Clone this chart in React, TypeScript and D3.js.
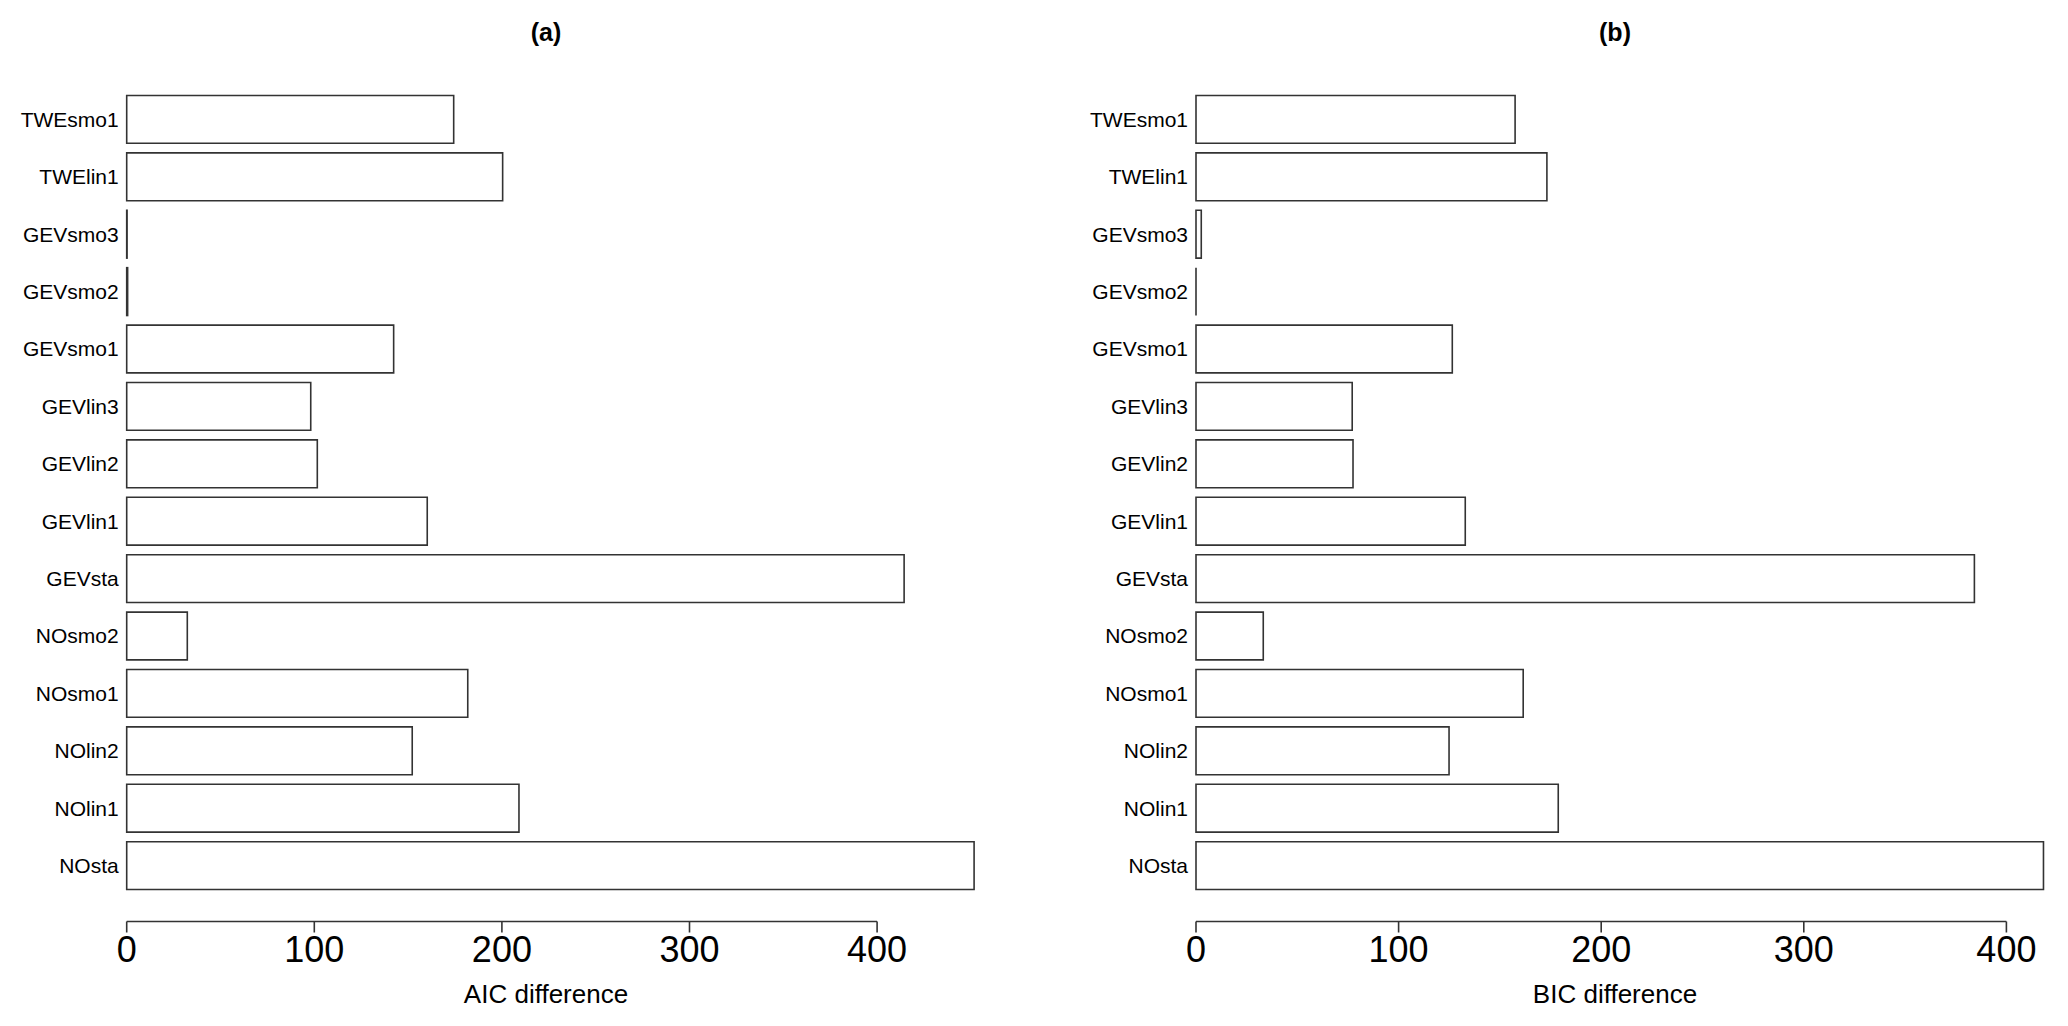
import React from "react";
import * as d3 from "d3";

const categories = ["TWEsmo1", "TWElin1", "GEVsmo3", "GEVsmo2", "GEVsmo1", "GEVlin3", "GEVlin2", "GEVlin1", "GEVsta", "NOsmo2", "NOsmo1", "NOlin2", "NOlin1", "NOsta"];
const aicValues = [174.3, 200.4, 0.2, 0.5, 142.3, 98.1, 101.6, 160.2, 414.4, 32.3, 181.8, 152.2, 209.1, 451.7];
const bicValues = [157.5, 173.2, 2.6, 0, 126.5, 77.1, 77.5, 132.9, 384.2, 33.2, 161.5, 124.9, 178.8, 418.3];
const tickValues = [0, 100, 200, 300, 400];
const panelTitles = ["(a)", "(b)"];
const axisTitles = ["AIC difference", "BIC difference"];

const W = 2068;
const H = 1026;
const FONT = "'Liberation Sans', Arial, Helvetica, sans-serif";
const STROKE = "#333";

const yScale = d3
  .scaleBand<string>()
  .domain(categories)
  .range([90.7, 894.3])
  .paddingInner(1 / 6)
  .paddingOuter(1 / 12);

const panels = [
  { values: aicValues, x0: 126.7, x400: 877.1, center: 546, title: panelTitles[0], axisTitle: axisTitles[0] },
  { values: bicValues, x0: 1196, x400: 2006.4, center: 1615, title: panelTitles[1], axisTitle: axisTitles[1] },
];

const AXIS_Y = 921.5;

function Panel({ p }: { p: (typeof panels)[number] }) {
  const x = d3.scaleLinear().domain([0, 400]).range([p.x0, p.x400]);
  return (
    <g>
      <text x={p.center} y={41} textAnchor="middle" fontFamily={FONT} fontWeight="bold" fontSize={25} fill="#000">
        {p.title}
      </text>
      {categories.map((c, i) => {
        const y = yScale(c)!;
        const bw = yScale.bandwidth();
        const x0 = x(0);
        const x1 = x(p.values[i]);
        const path = d3.path();
        path.moveTo(x0, y);
        path.lineTo(x1, y);
        path.lineTo(x1, y + bw);
        path.lineTo(x0, y + bw);
        path.closePath();
        return (
          <g key={c}>
            <path d={path.toString()} fill="#fff" stroke={STROKE} strokeWidth={1.6} />
            <text
              x={x0 - 8}
              y={y + bw / 2}
              dy="0.35em"
              textAnchor="end"
              fontFamily={FONT}
              fontSize={21}
              fill="#000"
            >
              {c}
            </text>
          </g>
        );
      })}
      <line x1={x(0)} x2={x(400)} y1={AXIS_Y} y2={AXIS_Y} stroke={STROKE} strokeWidth={1.6} />
      {tickValues.map((t) => (
        <g key={t}>
          <line x1={x(t)} x2={x(t)} y1={AXIS_Y} y2={AXIS_Y + 11} stroke={STROKE} strokeWidth={1.6} />
          <text x={x(t)} y={962} textAnchor="middle" fontFamily={FONT} fontSize={36} fill="#000">
            {t}
          </text>
        </g>
      ))}
      <text x={p.center} y={1003} textAnchor="middle" fontFamily={FONT} fontSize={26} fill="#000">
        {p.axisTitle}
      </text>
    </g>
  );
}

export default function App() {
  return (
    <svg
      width={W}
      height={H}
      viewBox={`0 0 ${W} ${H}`}
      style={{ position: "absolute", left: 0, top: 0, background: "#fff" }}
    >
      <rect x={0} y={0} width={W} height={H} fill="#fff" />
      {panels.map((p) => (
        <Panel key={p.title} p={p} />
      ))}
    </svg>
  );
}
